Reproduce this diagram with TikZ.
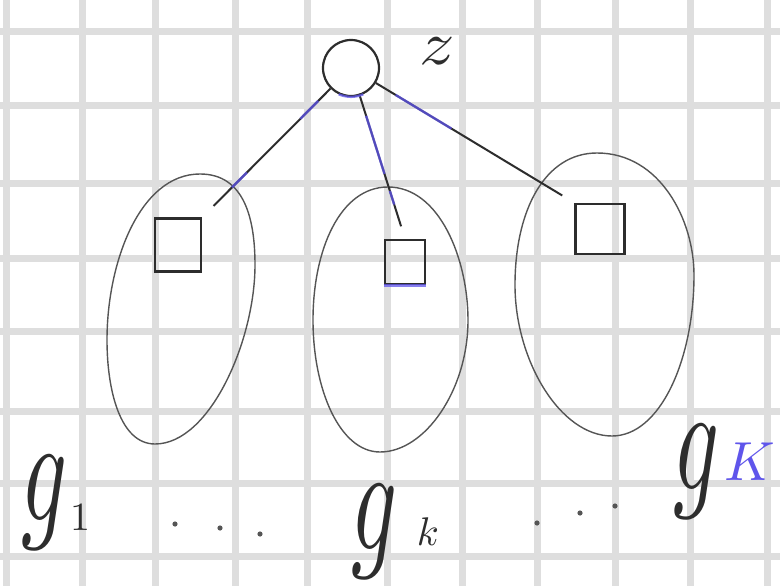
\documentclass[tikz,border=0pt]{standalone}
\usepackage{graphicx}
\usetikzlibrary{calc}
\definecolor{gridgray}{RGB}{222,222,222}
\definecolor{ink}{RGB}{45,45,45}
\definecolor{pencil}{RGB}{85,85,85}
\definecolor{blueink}{RGB}{95,85,235}
\tikzset{
  gridline/.style={draw=gridgray, line width=7pt},
  oval/.style={draw=pencil, line width=1.4pt},
  box/.style={draw=ink, line width=2.6pt, rectangle, inner sep=0pt},
  root/.style={draw=ink, line width=2.2pt, circle, inner sep=0pt, minimum size=56pt},
  edge/.style={draw=ink, line width=2pt},
  bluepart/.style={draw=blueink, line width=2.4pt, opacity=0.75},
  glyph/.style={text=ink, inner sep=0pt},
  dotmark/.style={fill=pencil, draw=none}
}
\begin{document}
\begin{tikzpicture}[x=1pt,y=-1pt]
\useasboundingbox (0,0) rectangle (780,586);
\fill[white] (0,0) rectangle (780,586);
% grid paper
\foreach \gx in {6,82,155,235,307,387,462,537,615,690,767}
  \draw[gridline] (\gx,0) -- (\gx,586);
\foreach \gy in {32,106,183,258,331,411,483,556}
  \draw[gridline] (0,\gy) -- (780,\gy);

% root
\node[root] (z) at (351,68) {};
\node[glyph, xscale=7, yscale=6.2] (zlab) at (437,51) {$z$};

% groups (hand-drawn ovals)
\draw[oval] (200,174) .. controls (245,174) and (255,220) .. (255,265)
  .. controls (255,340) and (210,444) .. (155,444)
  .. controls (120,444) and (107,390) .. (107,340)
  .. controls (107,262) and (140,174) .. (200,174) -- cycle;
\draw[oval] (388,187) .. controls (440,187) and (468,260) .. (468,320)
  .. controls (468,390) and (425,452) .. (380,452)
  .. controls (340,452) and (313,390) .. (313,320)
  .. controls (313,250) and (340,187) .. (388,187) -- cycle;
\draw[oval] (597,153) .. controls (660,153) and (694,220) .. (694,275)
  .. controls (694,360) and (660,436) .. (612,436)
  .. controls (560,436) and (515,360) .. (515,285)
  .. controls (515,210) and (545,153) .. (597,153) -- cycle;

% squares
\node[box, minimum width=46pt, minimum height=53pt] (s1) at (178,245) {};
\node[box, minimum width=40pt, minimum height=44pt] (s2) at (405,262) {};
\node[box, minimum width=49pt, minimum height=50pt] (s3) at (600,229) {};
\draw[bluepart, line width=3pt] (s2.south west) -- (s2.south east);

% connectors
\draw[edge, shorten >=16pt] (z) -- (s1.north east);
\draw[edge, shorten >=13pt] (z) -- (s2.north);
\draw[edge, shorten >=14pt] (z) -- (s3.north west);
% blue ink traces
\draw[bluepart] ($(z)!0.22!(s1.north east)$) -- ($(z)!0.34!(s1.north east)$);
\draw[bluepart] ($(z)!0.70!(s1.north east)$) -- ($(z)!0.80!(s1.north east)$);
\draw[bluepart] ($(z)!0.28!(s2.north)$) -- ($(z)!0.62!(s2.north)$);
\draw[bluepart] ($(z)!0.72!(s2.north)$) -- ($(z)!0.80!(s2.north)$);
\draw[bluepart] ($(z)!0.20!(s3.north west)$) -- ($(z)!0.45!(s3.north west)$);
\draw[bluepart] (z.-115) to[bend right=20] (z.-65);

% labels
\node[glyph, xscale=9, yscale=15] (g1) at (45,503) {$g$};
\node[glyph, scale=4] (g1s) at (80,518) {$1$};
\node[glyph, xscale=9, yscale=15] (gk) at (375,532) {$g$};
\node[glyph, scale=4] (gks) at (428,532) {$k$};
\node[glyph, xscale=9, yscale=15] (gK) at (697,472) {$g$};
\node[glyph, scale=5.5, text=blueink] (gKs) at (750,462) {$K$};

% dots
\foreach \dx/\dy in {175/524,220/528,260/534,537/523,580/513,615/506}
  \fill[dotmark] (\dx,\dy) circle (2.6pt);
\end{tikzpicture}
\end{document}
